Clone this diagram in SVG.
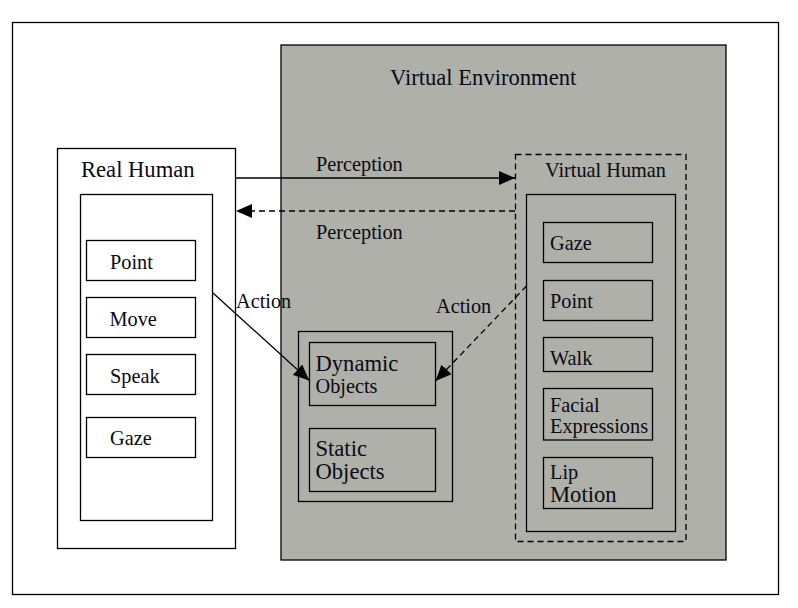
<svg xmlns="http://www.w3.org/2000/svg" width="798" height="608" viewBox="0 0 798 608">
<style>
.box{fill:none;stroke:#000;stroke-width:1.3}
.wbox{fill:#fff;stroke:#000;stroke-width:1.3}
.dash{fill:none;stroke:#000;stroke-width:1.3;stroke-dasharray:6 4}
text{font-family:"Liberation Serif","Times New Roman",serif;fill:#0a0a14}
.s{font-size:20.3px}
.l{font-size:22.6px}
.line{fill:none;stroke:#000;stroke-width:1.3}
</style>
<defs>
<marker id="ah" markerUnits="userSpaceOnUse" markerWidth="17" markerHeight="14" refX="16" refY="7" orient="auto">
<path d="M0,0 L16,7 L0,14 Z" fill="#000"/>
</marker>
</defs>
<rect width="798" height="608" fill="#fff"/>
<rect x="12.5" y="22.5" width="766" height="572" class="box" stroke-width="1.5"/>
<g id="virtual-environment">
<rect x="281" y="45" width="445" height="515" fill="#afb0aa" stroke="#000" stroke-width="1.3"/>
<text x="390" y="85" class="l">Virtual Environment</text>
</g>
<g id="real-human">
<rect x="57.5" y="148.5" width="178" height="400" class="wbox"/>
<text x="81" y="177" class="l">Real Human</text>
<rect x="80.5" y="194.5" width="132" height="326" class="box"/>
</g>
<g id="rh-point"><rect x="86.5" y="240.5" width="109" height="40" class="box"/><text x="110" y="268.5" class="s">Point</text></g>
<g id="rh-move"><rect x="86.5" y="297.5" width="109" height="40" class="box"/><text x="109.5" y="325.8" class="s">Move</text></g>
<g id="rh-speak"><rect x="86.5" y="354.5" width="109" height="40" class="box"/><text x="110" y="382.7" class="s">Speak</text></g>
<g id="rh-gaze"><rect x="86.5" y="417.5" width="109" height="40" class="box"/><text x="110" y="445" class="s">Gaze</text></g>
<g id="objects">
<rect x="298.5" y="331.5" width="154" height="170" class="box"/>
</g>
<g id="dynamic-objects"><rect x="309.5" y="342.5" width="126" height="63" class="box"/><text x="315.5" y="370.7" class="l">Dynamic</text><text x="315.5" y="393.3" class="s">Objects</text></g>
<g id="static-objects"><rect x="309.5" y="428.5" width="126" height="63" class="box"/><text x="315.5" y="456" class="l">Static</text><text x="315.5" y="479" class="l">Objects</text></g>
<g id="virtual-human">
<rect x="515.5" y="154.5" width="170.5" height="387" class="dash"/>
<text x="545" y="177" class="s">Virtual Human</text>
<rect x="526.5" y="194.5" width="149" height="337" class="box"/>
</g>
<g id="vh-gaze"><rect x="543.5" y="222.5" width="109" height="40" class="box"/><text x="550" y="250" class="s">Gaze</text></g>
<g id="vh-point"><rect x="543.5" y="280.5" width="109" height="40" class="box"/><text x="550" y="308.3" class="s">Point</text></g>
<g id="vh-walk"><rect x="543.5" y="337.5" width="109" height="34" class="box"/><text x="550" y="365" class="s">Walk</text></g>
<g id="vh-facial"><rect x="543.5" y="388.5" width="109" height="51.5" class="box"/><text x="550" y="411.7" class="s">Facial</text><text x="550" y="433.3" class="s">Expressions</text></g>
<g id="vh-lip"><rect x="543.5" y="457.5" width="109" height="51" class="box"/><text x="550" y="478.5" class="s">Lip</text><text x="550" y="502.3" class="l">Motion</text></g>
<g id="connectors">
<line x1="236" y1="178" x2="515" y2="178" class="line" marker-end="url(#ah)"/>
<line x1="515" y1="211" x2="236" y2="211" class="line" stroke-dasharray="6 4" marker-end="url(#ah)"/>
<line x1="212.7" y1="292.7" x2="309.3" y2="380.5" class="line" marker-end="url(#ah)"/>
<line x1="526.5" y1="286" x2="435.5" y2="381" class="line" stroke-dasharray="6 4" marker-end="url(#ah)"/>
<text x="316" y="170.7" class="s">Perception</text>
<text x="316" y="239" class="s">Perception</text>
<text x="236" y="308.3" class="s">Action</text>
<text x="436" y="313.3" class="s">Action</text>
</g>
</svg>
